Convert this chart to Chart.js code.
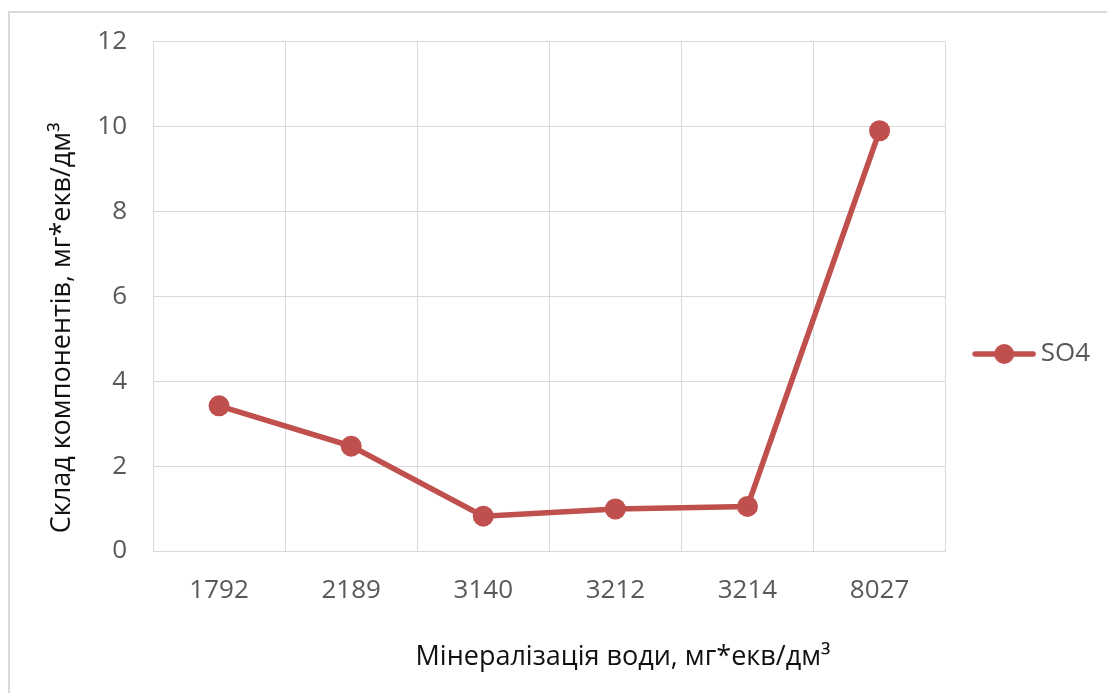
<!DOCTYPE html>
<html>
<head>
<meta charset="utf-8">
<script src="https://cdn.jsdelivr.net/npm/chart.js@4.4.1/dist/chart.umd.min.js"></script>
<style>
  html, body { margin: 0; padding: 0; background: #fff; overflow: hidden; }
  #marco {
    position: absolute; left: 8px; top: 11px; width: 1200px; height: 800px;
    border: 2px solid #d9d9d9; box-sizing: border-box;
  }
  #caja { position: absolute; left: 0; top: 0; width: 1107px; height: 693px; }
</style>
</head>
<body>
<div id="marco"></div>
<div id="caja"><canvas id="grafico_lineas"></canvas></div>
<script>
// datos
const MINERALIZACION = ["1792", "2189", "3140", "3212", "3214", "8027"];
const SO4 = [3.42, 2.47, 0.82, 0.99, 1.05, 9.9];
const TICKS_Y = [0, 2, 4, 6, 8, 10, 12];

const ROJO = "#C0504D";
const GRIS_TEXTO = "#595959";
const GRIS_GRILLA = "#D9D9D9";
const FUENTE = "'Open Sans', 'DejaVu Sans', sans-serif";

// simbolo de la leyenda: linea con un circulo en medio
const SIMBOLO = document.createElement("canvas");
SIMBOLO.width = 64;
SIMBOLO.height = 22;
const sctx = SIMBOLO.getContext("2d");
sctx.strokeStyle = ROJO;
sctx.lineWidth = 5.5;
sctx.lineCap = "round";
sctx.beginPath();
sctx.moveTo(3, 11);
sctx.lineTo(61, 11);
sctx.stroke();
sctx.fillStyle = ROJO;
sctx.beginPath();
sctx.arc(32, 11, 10, 0, Math.PI * 2);
sctx.fill();

const data = {
  labels: MINERALIZACION,
  datasets: [{
    label: "SO4",
    data: SO4,
    borderColor: ROJO,
    backgroundColor: ROJO,
    borderWidth: 5.5,
    pointStyle: "circle",
    pointRadius: 10.5,
    pointHoverRadius: 10.5,
    pointBorderWidth: 0,
    pointBackgroundColor: ROJO,
    tension: 0
  }]
};

const config = {
  type: "line",
  data: data,
  options: {
    responsive: false,
    animation: false,
    devicePixelRatio: 1,
    layout: {
      padding: { left: 0, top: 41, right: 7, bottom: 26 }
    },
    plugins: {
      tooltip: { enabled: false },
      legend: {
        position: "right",
        labels: {
          color: GRIS_TEXTO,
          font: { family: FUENTE, size: 26 },
          usePointStyle: true,
          pointStyleWidth: 47,
          padding: 35,
          generateLabels: function (chart) {
            return chart.data.datasets.map((ds, i) => ({
              text: ds.label,
              fillStyle: ROJO,
              strokeStyle: ROJO,
              fontColor: GRIS_TEXTO,
              lineWidth: 0,
              pointStyle: SIMBOLO,
              datasetIndex: i,
              hidden: false
            }));
          }
        }
      }
    },
    scales: {
      x: {
        offset: true,
        grid: { color: GRIS_GRILLA, lineWidth: 1, offset: true, drawTicks: false },
        border: { color: GRIS_GRILLA, width: 1 },
        ticks: {
          color: GRIS_TEXTO,
          padding: 24,
          maxRotation: 0,
          font: { family: FUENTE, size: 26 }
        },
        title: {
          display: true,
          // espacios delante para correr el titulo a la derecha como en excel
          text: "                     Мінералізація води, мг*екв/дм³",
          color: "#111",
          font: { family: FUENTE, size: 27, lineHeight: 0.75 },
          padding: 0
        },
        afterFit: function (scale) { scale.height = 116; }
      },
      y: {
        min: 0,
        max: 12,
        grid: { color: GRIS_GRILLA, lineWidth: 1, drawTicks: false },
        border: { color: GRIS_GRILLA, width: 1 },
        afterBuildTicks: function (scale) {
          scale.ticks = TICKS_Y.map(v => ({ value: v }));
        },
        ticks: {
          color: GRIS_TEXTO,
          padding: 26,
          font: { family: FUENTE, size: 26 }
        },
        title: {
          display: true,
          text: "Склад компонентів, мг*екв/дм³         ",
          color: "#111",
          font: { family: FUENTE, size: 27 },
          padding: { top: 46, bottom: 0 }
        },
        afterFit: function (scale) { scale.width = 153; }
      }
    }
  }
};

const LIENZO = document.getElementById("grafico_lineas");
LIENZO.width = 1107;
LIENZO.height = 693;
new Chart(LIENZO.getContext("2d"), config);
</script>
</body>
</html>
